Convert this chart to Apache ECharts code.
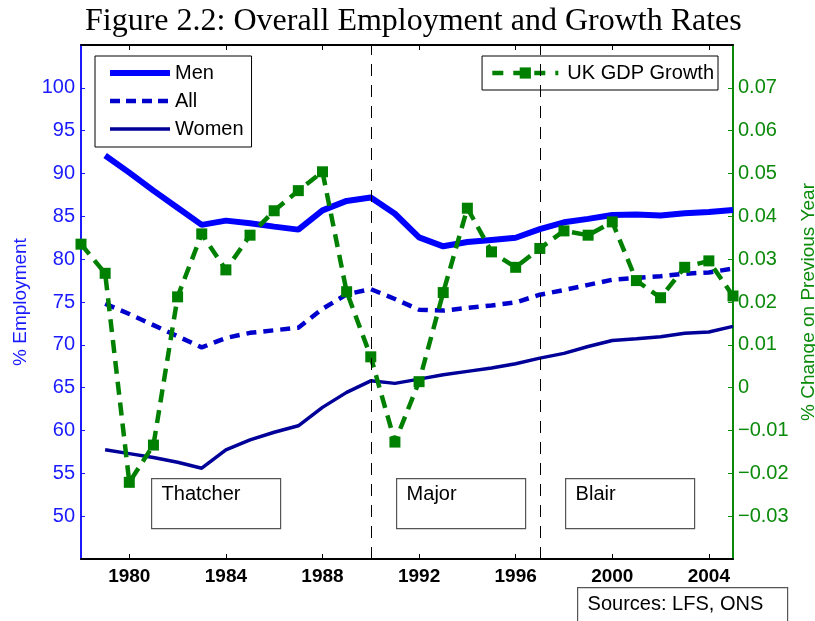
<!DOCTYPE html>
<html>
<head>
<meta charset="utf-8">
<title>Figure 2.2</title>
<script src="https://cdn.jsdelivr.net/npm/echarts@6/dist/echarts.min.js"></script>
<style>
  html, body { margin: 0; padding: 0; background: #fff; }
  #chart { width: 815px; height: 621px; }
</style>
</head>
<body>
<div id="chart"></div>
<script>
/* data */
const years = [1978, 1979, 1980, 1981, 1982, 1983, 1984, 1985, 1986, 1987, 1988, 1989, 1990, 1991,
  1992, 1993, 1994, 1995, 1996, 1997, 1998, 1999, 2000, 2001, 2002, 2003, 2004, 2005];

// employment rates (%), null where no survey value
const men = [null, 92.1, 90.1, 88.0, 86.0, 84.0, 84.5, 84.2, 83.8, 83.45, 85.7, 86.8, 87.2, 85.3,
  82.55, 81.5, 82.0, 82.25, 82.5, 83.5, 84.3, 84.7, 85.15, 85.2, 85.1, 85.35, 85.5, 85.75];
const all = [null, 74.8, 73.6, 72.3, 71.0, 69.7, 70.8, 71.4, 71.7, 72.0, 74.2, 75.9, 76.5, 75.35,
  74.1, 74.0, 74.3, 74.6, 74.95, 75.85, 76.4, 77.0, 77.6, 77.8, 78.0, 78.3, 78.45, 78.9];
const women = [null, 57.75, 57.3, 56.85, 56.3, 55.6, 57.75, 58.9, 59.8, 60.55, 62.7, 64.45, 65.8, 65.5,
  66.0, 66.5, 66.9, 67.3, 67.8, 68.45, 69.0, 69.8, 70.5, 70.7, 70.95, 71.35, 71.5, 72.15];

// annual change in GDP
const gdp = [0.0335, 0.0267, -0.0221, -0.0134, 0.0212, 0.0359, 0.0275, 0.0356, 0.0413, 0.046, 0.0504,
  0.0224, 0.0072, -0.0127, 0.0014, 0.0222, 0.0419, 0.0317, 0.0281, 0.0325, 0.0366, 0.0356, 0.0387,
  0.025, 0.021, 0.0281, 0.0296, 0.0214];

const yearTicks = [1980, 1984, 1988, 1992, 1996, 2000, 2004];
const empTicks = [50, 55, 60, 65, 70, 75, 80, 85, 90, 95, 100];
const gdpTicks = [-0.03, -0.02, -0.01, 0, 0.01, 0.02, 0.03, 0.04, 0.05, 0.06, 0.07];
const govtChanges = [1990, 1997];
const govtNames = ["Thatcher", "Major", "Blair"];

const FONT = "'Liberation Sans', Arial, sans-serif";
const BLUE_TXT = "#1a1aff";
const GREEN_TXT = "#0a8a0a";

function pairs(vals) {
  return years.map((y, i) => [y, vals[i]]).filter(p => p[1] != null);
}

const chart = echarts.init(document.getElementById("chart"));

function xAxisOf(pos, showLabels) {
  return {
    type: "value", min: 1978, max: 2005, position: pos, z: 10,
    splitLine: { show: false },
    axisLine: { show: true, onZero: false, lineStyle: { color: "#000", width: 2 } },
    axisTick: { show: true, inside: true, length: 5, customValues: yearTicks, lineStyle: { color: "#000", width: 1 } },
    axisLabel: { show: showLabels, customValues: yearTicks, margin: 8, formatter: v => String(v),
      fontFamily: FONT, fontSize: 19, fontWeight: "bold", color: "#000" }
  };
}

// text boxes: [label, left, width]
const boxes = [[govtNames[0], 151, 129], [govtNames[1], 396, 129], [govtNames[2], 565, 129]];

chart.setOption({
  animation: false,
  textStyle: { fontFamily: FONT },
  title: {
    text: "Figure 2.2: Overall Employment and Growth Rates",
    left: 80, top: 1,
    textStyle: { fontFamily: "'Liberation Serif', 'DejaVu Serif', serif", fontWeight: "normal", fontSize: 32, color: "#000" }
  },
  grid: { left: 81, right: 82, top: 45, bottom: 62, outerBoundsMode: "none" },
  legend: [
    {
      data: [
        { name: "Men", lineStyle: { width: 6, color: "#0000ff" } },
        { name: "All", lineStyle: { width: 4.5, color: "#0000cc", type: [10, 6] } },
        { name: "Women", lineStyle: { width: 3.5, color: "#000099" } }
      ],
      orient: "vertical", left: 95, top: 56,
      itemWidth: 60, itemHeight: 14, itemGap: 8,
      padding: [7, 8, 8, 12],
      borderColor: "#000", borderWidth: 1, backgroundColor: "#fff",
      itemStyle: { opacity: 0 },
      selectedMode: false,
      textStyle: { fontFamily: FONT, fontSize: 20, color: "#000" }
    },
    {
      data: [{ name: "UK GDP Growth", lineStyle: { width: 4.5, color: "#008000", type: [11, 10] } }],
      right: 97, top: 56,
      itemWidth: 66, itemHeight: 14,
      padding: [7, 4, 7, 8],
      borderColor: "#000", borderWidth: 1, backgroundColor: "#fff",
      selectedMode: false,
      textStyle: { fontFamily: FONT, fontSize: 20, color: "#000", padding: [0, 0, 0, 4] }
    }
  ],
  xAxis: [xAxisOf("bottom", true), xAxisOf("top", false)],
  yAxis: [
    {
      type: "value", min: 45, max: 105, position: "left",
      name: "% Employment", nameLocation: "middle", nameGap: 50, nameRotate: 90,
      nameTextStyle: { color: BLUE_TXT, fontFamily: FONT, fontSize: 19 },
      splitLine: { show: false },
      axisLine: { show: true, onZero: false, lineStyle: { color: BLUE_TXT, width: 2 } },
      axisTick: { show: true, inside: true, length: 4, customValues: empTicks, lineStyle: { color: BLUE_TXT } },
      axisLabel: { customValues: empTicks, margin: 6, fontFamily: FONT, fontSize: 20, color: BLUE_TXT }
    },
    {
      type: "value", min: -0.04, max: 0.08, position: "right",
      name: "% Change on Previous Year", nameLocation: "middle", nameGap: 64, nameRotate: 90,
      nameTextStyle: { color: GREEN_TXT, fontFamily: FONT, fontSize: 19 },
      splitLine: { show: false },
      axisLine: { show: true, onZero: false, lineStyle: { color: GREEN_TXT, width: 2 } },
      axisTick: { show: true, inside: true, length: 5, customValues: gdpTicks, lineStyle: { color: GREEN_TXT } },
      axisLabel: {
        customValues: gdpTicks, margin: 5, fontFamily: FONT, fontSize: 20, color: GREEN_TXT,
        formatter: v => (Math.abs(v) < 1e-9 ? "0" : v.toFixed(2).replace("-", "\u2212"))
      }
    }
  ],
  series: [
    {
      name: "Men", type: "line", data: pairs(men), symbol: "none",
      lineStyle: { color: "#0000ff", width: 6 }, itemStyle: { color: "#0000ff" },
      markLine: {
        silent: true, symbol: "none", label: { show: false },
        lineStyle: { color: "#000", width: 1, type: [12, 9] },
        data: govtChanges.map(y => ({ xAxis: y }))
      }
    },
    {
      name: "All", type: "line", data: pairs(all), symbol: "none",
      lineStyle: { color: "#0000cc", width: 4.5, type: [10, 7] }, itemStyle: { color: "#0000cc" }
    },
    {
      name: "Women", type: "line", data: pairs(women), symbol: "none",
      lineStyle: { color: "#000099", width: 3.5 }, itemStyle: { color: "#000099" }
    },
    {
      name: "UK GDP Growth", type: "line", yAxisIndex: 1, data: pairs(gdp),
      symbol: "rect", symbolSize: 11, clip: false,
      lineStyle: { color: "#008000", width: 4.5, type: [13, 8] }, itemStyle: { color: "#008000" }
    }
  ],
  graphic: boxes.map(b => ({
    type: "group", left: b[1], top: 478,
    children: [
      { type: "rect", shape: { x: 0, y: 0, width: b[2], height: 50 },
        style: { fill: "#fff", stroke: "#555", lineWidth: 1.2 } },
      { type: "text", x: 10, y: 6,
        style: { text: b[0], font: "20px " + FONT, fill: "#000" } }
    ]
  })).concat([{
    type: "group", left: 577, top: 587,
    children: [
      { type: "rect", shape: { x: 0, y: 0, width: 210, height: 45 },
        style: { fill: "#fff", stroke: "#555", lineWidth: 1.2 } },
      { type: "text", x: 10, y: 7,
        style: { text: "Sources: LFS, ONS", font: "20px " + FONT, fill: "#000" } }
    ]
  }])
});
</script>
</body>
</html>
